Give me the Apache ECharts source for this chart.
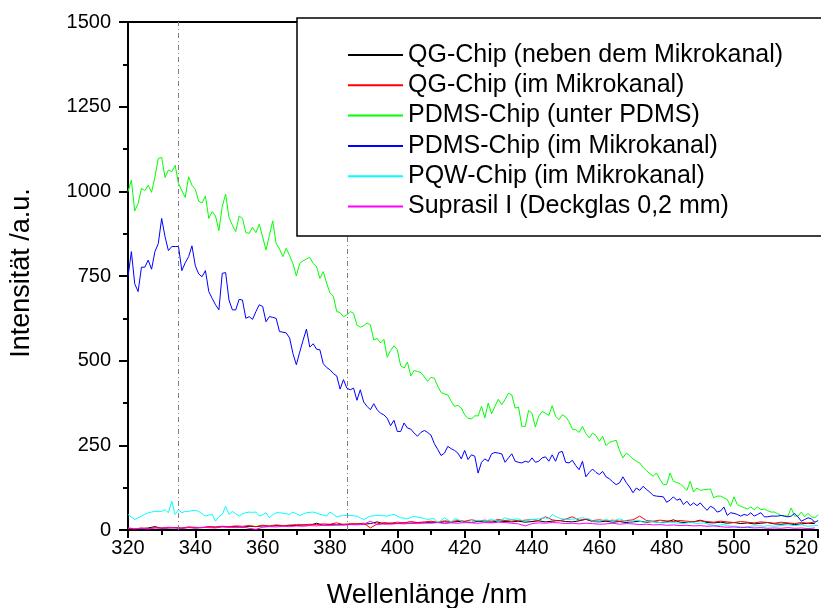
<!DOCTYPE html>
<html><head><meta charset="utf-8">
<script src="https://cdn.jsdelivr.net/npm/echarts@6/dist/echarts.min.js"></script>
<style>html,body{margin:0;padding:0;background:#fff}#c{width:821px;height:608px}</style>
</head><body><div id="c"></div>
<script>
const seriesNames = ['QG-Chip (neben dem Mikrokanal)','QG-Chip (im Mikrokanal)','PDMS-Chip (unter PDMS)','PDMS-Chip (im Mikrokanal)','PQW-Chip (im Mikrokanal)','Suprasil I (Deckglas 0,2 mm)'];
const seriesColors = ['#000000','#ff0000','#00ff00','#0000ff','#00ffff','#ff00ff'];
const startNm = 320;
const markerNm = [335, 385];
const xTicks = {min: 320, max: 525, interval: 20};
const yTicks = {min: 0, max: 1500, interval: 250};

// 1 nm steps, 320..525
const pdmsUnter = [
999,1033,942,964,1009,1002,1018,997,1043,1097,
1100,1041,1063,1058,1077,1023,1002,982,1043,1018,
1006,971,966,986,920,940,927,884,955,992,
923,900,881,927,920,878,876,894,878,903,
865,827,870,913,846,830,807,832,810,787,
750,787,795,800,805,787,778,743,763,729,
700,690,645,642,630,635,645,640,605,599,
603,611,606,561,566,552,563,510,530,544,
532,485,478,496,455,471,468,465,452,439,
451,448,425,406,402,399,380,365,368,360,
340,330,328,337,337,365,331,375,343,365,
386,370,385,404,399,360,363,306,306,353,
345,304,336,350,345,338,367,336,326,340,
334,320,298,296,288,306,285,272,286,279,
262,277,249,259,262,265,235,213,227,220,
210,203,198,185,175,167,159,168,150,134,
134,168,144,140,137,127,117,144,112,124,
117,119,120,121,95,100,100,95,90,70,
98,75,70,66,62,68,60,68,60,62,
57,53,53,48,43,41,41,65,41,41,
53,39,49,39,36,45];
const pdmsIm = [
748,822,727,704,776,776,797,770,822,846,
920,866,825,837,837,837,766,789,807,839,
780,756,748,766,704,684,665,650,758,760,
679,650,650,681,679,625,630,622,645,665,
660,615,630,628,625,586,584,582,567,521,
488,525,560,593,540,550,534,532,491,480,
473,462,455,416,444,419,414,419,383,414,
378,365,355,373,355,345,340,330,308,324,
291,291,316,301,298,286,277,288,294,288,
280,255,238,220,227,247,240,235,227,210,
235,208,222,218,168,200,210,203,225,229,
227,225,200,213,225,203,200,198,203,200,
213,200,203,213,216,203,222,203,229,232,
200,198,206,190,178,203,157,170,180,170,
164,173,157,151,142,134,139,157,140,127,
110,124,117,129,120,112,102,100,99,98,
82,88,98,88,92,75,85,72,80,72,
80,68,58,70,65,53,56,68,43,51,
49,46,41,46,43,51,41,46,51,39,
39,41,41,41,43,41,39,41,49,39,
26,31,36,33,23,28];
const pqwIm = [
46,38,31,36,41,46,51,53,55,55,
55,60,51,85,46,60,51,55,55,57,
58,55,48,41,44,46,26,40,46,70,
46,55,48,41,48,51,53,52,53,41,
45,51,36,45,51,51,50,48,46,53,
48,43,47,51,52,53,50,46,44,41,
53,46,39,41,43,43,43,42,41,36,
31,36,41,42,43,43,42,41,44,46,
41,36,35,33,37,41,38,36,34,31,
33,33,21,28,36,30,23,33,31,26,
21,25,23,26,29,27,26,29,31,28,
26,31,36,33,31,32,33,28,26,30,
31,32,33,35,36,33,46,40,36,33,
32,31,32,33,35,36,34,33,26,26,
26,28,31,28,26,30,33,29,26,23,
26,29,26,23,25,26,24,23,22,21,
22,23,22,21,20,19,21,23,21,19,
20,21,18,16,14,13,15,16,13,11,
11,11,9,8,10,11,12,13,12,11,
13,12,11,12,13,14,16,14,13,14,
16,13,11,12,13,14];
// 2 nm steps, 320..524
const qgNeben = [
3,2,4,6,10,5,6,7,5,8,
6,7,9,8,10,9,10,8,11,10,
12,11,13,12,14,13,15,14,20,14,
16,15,17,16,18,17,19,24,18,20,
19,21,20,22,21,23,22,24,23,25,
24,22,26,24,23,27,25,24,26,23,
25,27,24,26,28,25,24,27,32,25,
24,26,23,25,22,24,26,23,25,22,
24,30,23,22,24,29,22,21,23,20,
22,19,21,18,20,22,18,17,19,16,
18,20,19];
const qgIm = [
5,3,6,4,7,6,8,7,6,9,
8,7,10,9,11,10,12,11,13,10,
14,12,15,13,14,16,15,17,16,18,
17,21,16,19,18,20,6,18,22,20,
23,21,25,22,24,26,23,27,25,28,
26,30,27,29,26,31,28,30,27,29,
31,28,39,30,27,32,39,29,31,28,
30,27,29,26,28,30,41,28,26,29,
27,25,28,26,24,27,25,23,26,24,
22,25,23,21,24,22,20,23,21,19,
22,20,24];
const suprasil = [
6,4,5,3,6,5,7,6,5,7,
6,8,7,6,9,8,7,9,5,2,
8,10,9,11,10,12,11,13,12,14,
13,15,14,16,15,17,26,16,18,17,
19,18,20,19,21,20,22,19,21,20,
22,21,20,22,21,23,22,20,18,12,
19,21,20,22,21,19,20,18,20,19,
17,18,20,17,19,18,16,17,15,16,
14,15,13,14,12,13,11,12,10,8,
9,7,8,6,7,5,6,5,7,5,
6,4,6];

const FONT = 'Arial, "Liberation Sans", sans-serif';
function pairs(arr, step) { return arr.map((v, i) => [startNm + i * step, v]); }
const dataSets = [pairs(qgNeben, 2), pairs(qgIm, 2), pairs(pdmsUnter, 1), pairs(pdmsIm, 1), pairs(pqwIm, 1), pairs(suprasil, 2)];

const chart = echarts.init(document.getElementById('c'), null, {renderer: 'canvas'});
const series = seriesNames.map((name, i) => ({
  name, type: 'line', data: dataSets[i], symbol: 'none', showSymbol: false,
  lineStyle: {color: seriesColors[i], width: 1}, itemStyle: {color: seriesColors[i]},
  z: 3, animation: false
}));
series[0].markLine = {
  silent: true, symbol: ['none', 'none'], label: {show: false},
  lineStyle: {color: '#808080', type: [5, 3, 1, 3], width: 1},
  data: markerNm.map(v => ({xAxis: v}))
};

chart.setOption({
  animation: false,
  backgroundColor: '#fff',
  grid: {left: 128, top: 22, right: -2, bottom: 78},
  xAxis: [{
    type: 'value', min: xTicks.min, max: xTicks.max, interval: xTicks.interval,
    axisLine: {show: true, onZero: false, lineStyle: {color: '#000', width: 2}},
    axisTick: {show: true, inside: false, length: 8, lineStyle: {color: '#000', width: 2}},
    minorTick: {show: true, splitNumber: 2, length: 5, lineStyle: {color: '#000', width: 2}},
    axisLabel: {color: '#000', fontSize: 20, fontFamily: FONT, margin: 8, showMaxLabel: false},
    splitLine: {show: false}
  }, {
    type: 'value', position: 'top', min: xTicks.min, max: xTicks.max, interval: xTicks.interval,
    axisLine: {show: true, onZero: false, lineStyle: {color: '#000', width: 2}},
    axisTick: {show: false}, axisLabel: {show: false}, splitLine: {show: false}
  }],
  yAxis: {
    type: 'value', min: yTicks.min, max: yTicks.max, interval: yTicks.interval,
    axisLine: {show: true, onZero: false, lineStyle: {color: '#000', width: 2}},
    axisTick: {show: true, inside: false, length: 9, lineStyle: {color: '#000', width: 2}},
    minorTick: {show: true, splitNumber: 2, length: 5, lineStyle: {color: '#000', width: 2}},
    axisLabel: {color: '#000', fontSize: 20, fontFamily: FONT, margin: 17, formatter: v => String(v)},
    splitLine: {show: false}
  },
  legend: {
    orient: 'vertical', left: 342, top: 37.5, itemWidth: 55, itemHeight: 14, itemGap: 5.3,
    data: seriesNames, z: 20,
    itemStyle: {opacity: 0},
    textStyle: {fontSize: 25, fontFamily: FONT, color: '#000'}
  },
  graphic: [
    {type: 'rect', z: 10, shape: {x: 297, y: 18, width: 540, height: 218},
     style: {fill: '#fff', stroke: '#000', lineWidth: 1.5}},
    {type: 'text', x: 427, y: 596, z: 10,
     style: {text: 'Wellenlänge /nm', font: '27px ' + FONT, fill: '#000', textAlign: 'center', textVerticalAlign: 'middle'}},
    {type: 'text', x: 22, y: 273, rotation: Math.PI / 2, z: 10,
     style: {text: 'Intensität /a.u.', font: '27px ' + FONT, fill: '#000', textAlign: 'center', textVerticalAlign: 'middle'}}
  ],
  series
});
</script>
</body></html>
